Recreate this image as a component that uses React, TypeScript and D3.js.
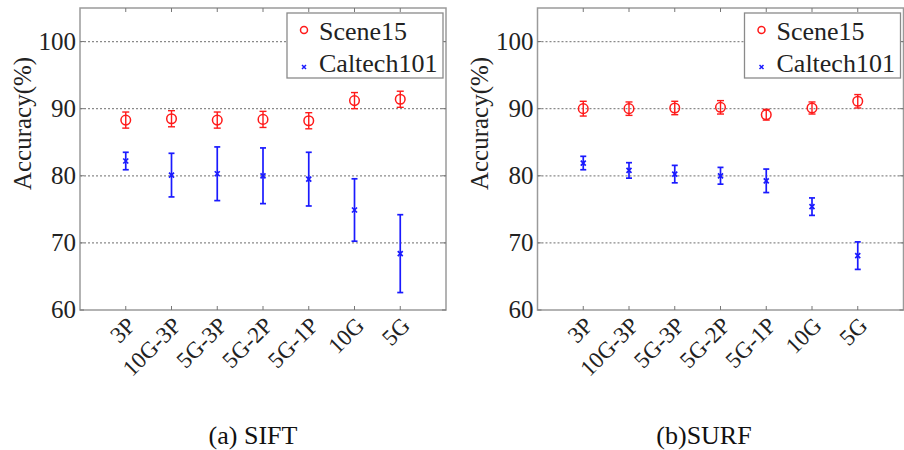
import React, { useEffect, useRef } from "react";
import * as d3 from "d3";

// categories on the x axis
const methods = ["3P", "10G-3P", "5G-3P", "5G-2P", "5G-1P", "10G", "5G"];
const yTicks = [60, 70, 80, 90, 100];
const gridTicks = [70, 80, 90, 100];

// SIFT panel
const siftScene = [88.3, 88.5, 88.3, 88.4, 88.2, 91.2, 91.4];
const siftSceneErr = [1.2, 1.2, 1.2, 1.2, 1.2, 1.2, 1.2];
const siftCaltech = [82.2, 80.1, 80.3, 80.0, 79.5, 74.9, 68.4];
const siftCaltechErr = [1.3, 3.25, 4.0, 4.15, 4.0, 4.65, 5.8];

// SURF panel
const surfScene = [90.0, 90.0, 90.1, 90.2, 89.1, 90.1, 91.1];
const surfSceneErr = [1.1, 1.0, 1.0, 1.0, 0.8, 0.9, 1.0];
const surfCaltech = [81.9, 80.8, 80.25, 80.0, 79.25, 75.4, 68.1];
const surfCaltechErr = [1.0, 1.15, 1.3, 1.25, 1.75, 1.3, 2.05];

const RED = "#ff1a1a";
const BLUE = "#1a1aff";
const FONT = "Liberation Serif, Times New Roman, DejaVu Serif, serif";

const drawPanel = (svg, opts) => {
  const { left, top, width, height, scene, sceneErr, caltech, caltechErr, caption, captionX } = opts;
  const g = svg.append("g").attr("transform", `translate(${left},${top})`);

  const x = d3.scaleLinear().domain([0, methods.length + 1]).range([0, width]);
  const y = d3.scaleLinear().domain([60, 105]).range([height, 0]);

  // grid lines
  g.selectAll(".grid")
    .data(gridTicks)
    .enter()
    .append("line")
    .attr("x1", 0)
    .attr("x2", width)
    .attr("y1", (d) => y(d))
    .attr("y2", (d) => y(d))
    .attr("stroke", "#8a8a8a")
    .attr("stroke-width", 1.2)
    .attr("stroke-dasharray", "2,2");

  // box
  g.append("rect")
    .attr("width", width)
    .attr("height", height)
    .attr("fill", "none")
    .attr("stroke", "#9a9a9a")
    .attr("stroke-width", 1.5);

  // ticks on all sides (inward)
  methods.forEach((m, i) => {
    const px = x(i + 1);
    g.append("line").attr("x1", px).attr("x2", px).attr("y1", height).attr("y2", height - 4)
      .attr("stroke", "#777").attr("stroke-width", 1);
    g.append("line").attr("x1", px).attr("x2", px).attr("y1", 0).attr("y2", 4)
      .attr("stroke", "#777").attr("stroke-width", 1);
  });
  yTicks.forEach((t) => {
    g.append("line").attr("x1", 0).attr("x2", 4).attr("y1", y(t)).attr("y2", y(t))
      .attr("stroke", "#777").attr("stroke-width", 1);
    g.append("line").attr("x1", width).attr("x2", width - 4).attr("y1", y(t)).attr("y2", y(t))
      .attr("stroke", "#777").attr("stroke-width", 1);
  });

  // y tick labels
  g.selectAll(".ylab")
    .data(yTicks)
    .enter()
    .append("text")
    .attr("x", -4)
    .attr("y", (d) => y(d))
    .attr("dy", "0.33em")
    .attr("text-anchor", "end")
    .style("font-family", FONT)
    .attr("font-size", 25)
    .attr("fill", "#222")
    .text((d) => d);

  // x tick labels (rotated)
  methods.forEach((m, i) => {
    const px = x(i + 1) + 11;
    const py = height + 17;
    g.append("text")
      .attr("transform", `translate(${px},${py}) rotate(-45)`)
      .attr("text-anchor", "end")
      .style("font-family", FONT)
      .attr("font-size", 23)
      .attr("fill", "#222")
      .text(m);
  });

  // y axis title
  g.append("text")
    .attr("transform", `translate(-58,${y(87.8)}) rotate(-90)`)
    .attr("text-anchor", "middle")
    .attr("dy", "0.35em")
    .style("font-family", FONT)
    .attr("font-size", 25)
    .attr("fill", "#222")
    .text("Accuracy(%)");

  // error bars
  const errorBars = (vals, errs, color, cap, sw) => {
    vals.forEach((v, i) => {
      const px = x(i + 1);
      const e = errs[i];
      g.append("line").attr("x1", px).attr("x2", px).attr("y1", y(v - e)).attr("y2", y(v + e))
        .attr("stroke", color).attr("stroke-width", sw);
      [v - e, v + e].forEach((c) => {
        g.append("line").attr("x1", px - cap).attr("x2", px + cap).attr("y1", y(c)).attr("y2", y(c))
          .attr("stroke", color).attr("stroke-width", sw);
      });
    });
  };
  errorBars(scene, sceneErr, RED, 3.5, 1.4);
  errorBars(caltech, caltechErr, BLUE, 3, 1.7);

  // markers
  g.selectAll(".scene")
    .data(scene)
    .enter()
    .append("circle")
    .attr("cx", (d, i) => x(i + 1))
    .attr("cy", (d) => y(d))
    .attr("r", 4.8)
    .attr("fill", "none")
    .attr("stroke", RED)
    .attr("stroke-width", 1.5);

  caltech.forEach((v, i) => {
    const px = x(i + 1);
    const py = y(v);
    const s = 2.5;
    g.append("path")
      .attr("d", `M${px - s},${py - s}L${px + s},${py + s}M${px - s},${py + s}L${px + s},${py - s}`)
      .attr("stroke", BLUE)
      .attr("stroke-width", 1.7);
  });

  // legend
  const lg = g.append("g").attr("transform", `translate(${width - 159},5)`);
  lg.append("rect")
    .attr("width", 156)
    .attr("height", 65)
    .attr("fill", "#fff")
    .attr("stroke", "#8a8a8a")
    .attr("stroke-width", 1.3);
  lg.append("circle").attr("cx", 17).attr("cy", 17).attr("r", 3.5)
    .attr("fill", "none").attr("stroke", RED).attr("stroke-width", 1.5);
  lg.append("path")
    .attr("d", "M15,52L19,56M15,56L19,52")
    .attr("stroke", BLUE).attr("stroke-width", 1.5);
  lg.append("text").attr("x", 32).attr("y", 27)
    .style("font-family", FONT).attr("font-size", 26).attr("fill", "#222").text("Scene15");
  lg.append("text").attr("x", 32).attr("y", 59)
    .style("font-family", FONT).attr("font-size", 26).attr("fill", "#222").text("Caltech101");

  // caption
  svg.append("text")
    .attr("x", captionX)
    .attr("y", 444)
    .attr("text-anchor", "middle")
    .style("font-family", FONT)
    .attr("font-size", 26)
    .attr("fill", "#111")
    .text(caption);
};

const App = () => {
  const ref = useRef(null);

  useEffect(() => {
    const svg = d3.select(ref.current);
    svg.selectAll("*").remove();

    drawPanel(svg, {
      left: 80, top: 8, width: 366, height: 302,
      scene: siftScene, sceneErr: siftSceneErr,
      caltech: siftCaltech, caltechErr: siftCaltechErr,
      caption: "(a) SIFT", captionX: 253,
    });
    drawPanel(svg, {
      left: 537.5, top: 8, width: 366, height: 302,
      scene: surfScene, sceneErr: surfSceneErr,
      caltech: surfCaltech, caltechErr: surfCaltechErr,
      caption: "(b)SURF", captionX: 704,
    });
  }, []);

  return (
    <svg
      ref={ref}
      width={904}
      height={450}
      style={{ position: "absolute", left: 0, top: 0, background: "#fff" }}
    />
  );
};

export default App;
